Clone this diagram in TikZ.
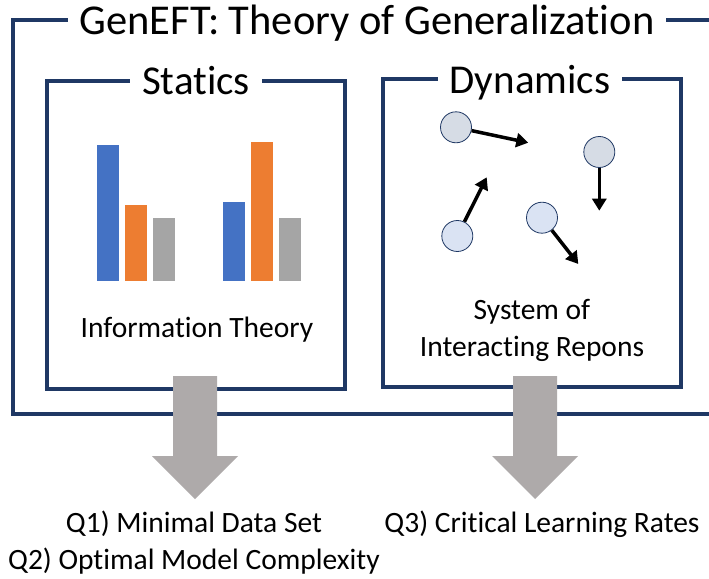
\documentclass[tikz,border=0pt]{standalone}
\usepackage{fontspec}
\setmainfont{Carlito}[Ligatures=NoCommon]
\usetikzlibrary{arrows.meta}
\definecolor{navy}{HTML}{1F3864}
\definecolor{barblue}{HTML}{4472C4}
\definecolor{barorange}{HTML}{ED7D31}
\definecolor{bargray}{HTML}{A5A5A5}
\definecolor{fatgray}{HTML}{AEAAAA}
\definecolor{pfillA}{HTML}{D6DCE5}
\definecolor{pfillB}{HTML}{DAE3F3}
\begin{document}
\begin{tikzpicture}[x=1pt,y=-1pt,
  frame/.style={draw=navy,line width=4pt,inner sep=0pt,outer sep=0pt},
  boxlabel/.style={fill=white,inner xsep=12pt,inner ysep=2pt,anchor=base,font=\fontsize{41}{49}\selectfont},
  bodytext/.style={inner sep=0pt,align=center,font=\fontsize{29.5}{36.5}\selectfont},
  particle/.style={circle,draw=navy,line width=0.8pt,minimum size=31pt,inner sep=0pt},
  move/.style={line width=3.5pt,-{Triangle[length=12pt,width=14pt]}},
  fatarrow/.style={fill=fatgray}]
\clip (0,0) rectangle (709,578);
\fill[white] (0,0) rectangle (709,578);

% outer frame (right side lies beyond the picture)
\node[frame,minimum width=705pt,minimum height=393.5pt] (outer) at (365.5,217.25) {};
\node[boxlabel,font=\fontsize{42.5}{50}\selectfont] (title) at (367,34.5) {GenEFT: Theory of Generalization};

% statics box
\node[frame,minimum width=298.5pt,minimum height=308.5pt] (staticsbox) at (195.75,234.75) {};
\node[boxlabel] (statics) at (196,94.5) {Statics};

% dynamics box
\node[frame,minimum width=297.5pt,minimum height=308pt] (dynbox) at (531.75,233) {};
\node[boxlabel] (dynamics) at (530,93) {Dynamics};

% bars
\fill[barblue]   (97,145)  rectangle (119,280.7);
\fill[barorange] (125,205) rectangle (147,280.7);
\fill[bargray]   (152.7,218) rectangle (175,280.7);
\fill[barblue]   (223,202) rectangle (245,280.7);
\fill[barorange] (251,142) rectangle (273,280.7);
\fill[bargray]   (279,218) rectangle (301,280.7);

\node[bodytext,anchor=base] (info) at (197,337.5) {Information Theory};

% particles
\node[particle,fill=pfillA] (p1) at (456,127.3) {};
\node[particle,fill=pfillA] (p2) at (599.3,152) {};
\node[particle,fill=pfillB] (p3) at (457.3,236) {};
\node[particle,fill=pfillB] (p4) at (542,217.7) {};
\coordinate (t1) at (528.3,142.7);
\coordinate (t2) at (599.3,210.7);
\coordinate (t3) at (486.7,177.3);
\coordinate (t4) at (578.3,264);
\draw[move] (p1) -- (t1);
\draw[move] (p2) -- (t2);
\draw[move] (p3) -- (t3);
\draw[move] (p4) -- (t4);

\node[bodytext,anchor=base] (system) at (532,356) {System of\\Interacting Repons};

% fat gray arrows
\fill[fatarrow] (173,376) -- (217,376) -- (217,456) -- (238,456) -- (195,499) -- (152,456) -- (173,456) -- cycle;
\fill[fatarrow] (513,376) -- (557,376) -- (557,456) -- (578,456) -- (535,499) -- (492,456) -- (513,456) -- cycle;

\node[bodytext,anchor=base] (q12) at (194,569) {Q1) Minimal Data Set\\Q2) Optimal Model Complexity};
\node[bodytext,anchor=base] (q3) at (542,532) {Q3) Critical Learning Rates};
\end{tikzpicture}
\end{document}
